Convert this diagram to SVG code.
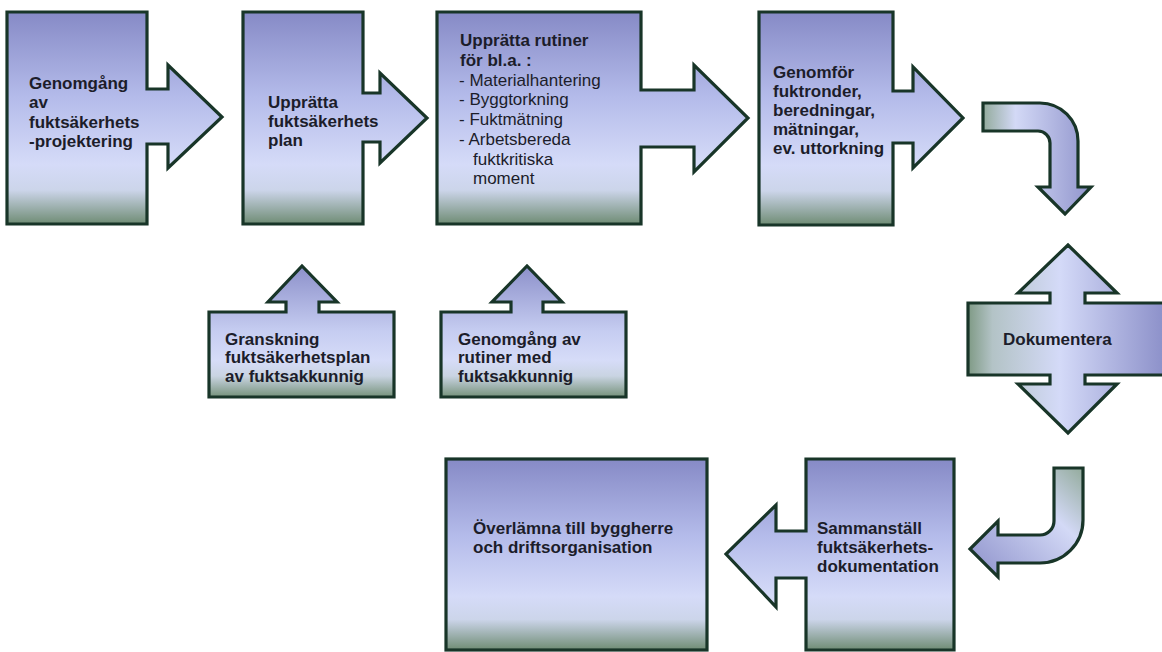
<svg xmlns="http://www.w3.org/2000/svg" width="1162" height="652" viewBox="0 0 1162 652">
<defs>
<linearGradient id="gBox" x1="0" y1="0" x2="0" y2="1">
<stop offset="0" stop-color="#868ac6"/>
<stop offset="0.4" stop-color="#b4bbea"/>
<stop offset="0.72" stop-color="#d5dbf8"/>
<stop offset="0.84" stop-color="#ccd5ea"/>
<stop offset="1" stop-color="#6f8c74"/>
</linearGradient>
<linearGradient id="gSmall" x1="0" y1="0" x2="0" y2="1">
<stop offset="0" stop-color="#8c90ca"/>
<stop offset="0.5" stop-color="#c6cdf1"/>
<stop offset="0.72" stop-color="#d6dcf8"/>
<stop offset="0.84" stop-color="#c9d4e2"/>
<stop offset="1" stop-color="#76927b"/>
</linearGradient>
<linearGradient id="gDok" x1="0" y1="0" x2="1" y2="0">
<stop offset="0" stop-color="#7f9a85"/>
<stop offset="0.12" stop-color="#b3c3c6"/>
<stop offset="0.45" stop-color="#d4daf8"/>
<stop offset="1" stop-color="#878bc6"/>
</linearGradient>
<linearGradient id="gCurve1" x1="0" y1="0" x2="1" y2="0">
<stop offset="0" stop-color="#93ab9c"/>
<stop offset="0.3" stop-color="#d3d9f6"/>
<stop offset="1" stop-color="#9094cc"/>
</linearGradient>
<linearGradient id="gCurve2" x1="1" y1="0" x2="0" y2="1">
<stop offset="0" stop-color="#93ab9c"/>
<stop offset="0.35" stop-color="#d3d9f6"/>
<stop offset="1" stop-color="#8c90ca"/>
</linearGradient>
</defs>
<style>
.shape{stroke:#183528;stroke-width:3.2;stroke-linejoin:miter}
.t{font-family:"Liberation Sans",Arial,sans-serif;font-size:17px;font-weight:bold;fill:#1c1d2a}
.r{font-weight:normal}
</style>
<rect width="1162" height="652" fill="#ffffff"/>

<g id="node-genomgang">
<path class="shape" fill="url(#gBox)" d="M7,12 H147 V89 H168 V65 L222,117 L168,168 V144 H147 V224 H7 Z"/>
<text class="t"><tspan x="29" y="89">Genomgång</tspan><tspan x="29" y="108">av</tspan><tspan x="29" y="128">fuktsäkerhets</tspan><tspan x="29" y="147">-projektering</tspan></text>
</g>

<g id="node-upprattaplan">
<path class="shape" fill="url(#gBox)" d="M243,12 H363 V93 H380 V73 L427,118 L380,163 V142 H363 V224 H243 Z"/>
<text class="t"><tspan x="268" y="108">Upprätta</tspan><tspan x="268" y="127">fuktsäkerhets</tspan><tspan x="268" y="146">plan</tspan></text>
</g>

<g id="node-rutiner">
<path class="shape" fill="url(#gBox)" d="M437,12 H641 V90 H694 V65 L748,118 L694,172 V147 H641 V224 H437 Z"/>
<text class="t"><tspan x="460" y="46">Upprätta rutiner</tspan><tspan x="460" y="66">för bl.a. :</tspan></text>
<text class="t r"><tspan x="459" y="86">- Materialhantering</tspan><tspan x="459" y="105">- Byggtorkning</tspan><tspan x="459" y="125">- Fuktmätning</tspan><tspan x="459" y="145">- Arbetsbereda</tspan><tspan x="473" y="165">fuktkritiska</tspan><tspan x="473" y="184">moment</tspan></text>
</g>

<g id="node-genomfor">
<path class="shape" fill="url(#gBox)" d="M759,12 H893 V91 H913 V67 L963,118 L913,168 V143 H893 V225 H759 Z"/>
<text class="t"><tspan x="773" y="78">Genomför</tspan><tspan x="773" y="97">fuktronder,</tspan><tspan x="773" y="116">beredningar,</tspan><tspan x="773" y="135">mätningar,</tspan><tspan x="773" y="154">ev. uttorkning</tspan></text>
</g>

<g id="node-granskning">
<path class="shape" fill="url(#gSmall)" d="M209,312 H286 V302 H268 L302,266 L337,302 H319 V312 H394 V397 H209 Z"/>
<text class="t"><tspan x="225" y="345">Granskning</tspan><tspan x="225" y="363">fuktsäkerhetsplan</tspan><tspan x="225" y="382">av fuktsakkunnig</tspan></text>
</g>

<g id="node-genomgang-rutiner">
<path class="shape" fill="url(#gSmall)" d="M441,312 H511 V302 H492 L527,266 L562,302 H543 V312 H626 V397 H441 Z"/>
<text class="t"><tspan x="458" y="345">Genomgång av</tspan><tspan x="458" y="363">rutiner med</tspan><tspan x="458" y="382">fuktsakkunnig</tspan></text>
</g>

<g id="node-dokumentera">
<path class="shape" fill="url(#gDok)" d="M968,303 H1050 V293 H1018 L1068,245 L1117,293 H1085 V303 H1172 V375 H1085 V384 H1117 L1068,433 L1018,384 H1050 V375 H968 Z"/>
<text class="t" x="1003" y="345">Dokumentera</text>
</g>

<g id="node-sammanstall">
<path class="shape" fill="url(#gBox)" d="M806,459 H954 V650 H806 V578 H776 V607 L726,554 L776,505 V531 H806 Z"/>
<text class="t"><tspan x="817" y="534">Sammanställ</tspan><tspan x="817" y="553">fuktsäkerhets-</tspan><tspan x="817" y="572">dokumentation</tspan></text>
</g>

<g id="node-overlamna">
<rect class="shape" fill="url(#gBox)" x="446" y="459" width="261" height="191"/>
<text class="t"><tspan x="473" y="534">Överlämna till byggherre</tspan><tspan x="473" y="553">och driftsorganisation</tspan></text>
</g>

<g id="connectors">
<path class="shape" fill="url(#gCurve1)" d="M983,103 L1040,103 A38,38 0 0 1 1078,141 L1078,187 L1091,187 L1065,214 L1038,187 L1050,187 L1050,143 A12,12 0 0 0 1038,131 L983,131 Z"/>
<path class="shape" fill="url(#gCurve2)" d="M1054,468 L1083,468 L1083,520 A43,43 0 0 1 1040,563 L998,563 L998,577 L970,549 L998,521 L998,535 L1040,535 A14,14 0 0 0 1054,521 Z"/>
</g>
</svg>
